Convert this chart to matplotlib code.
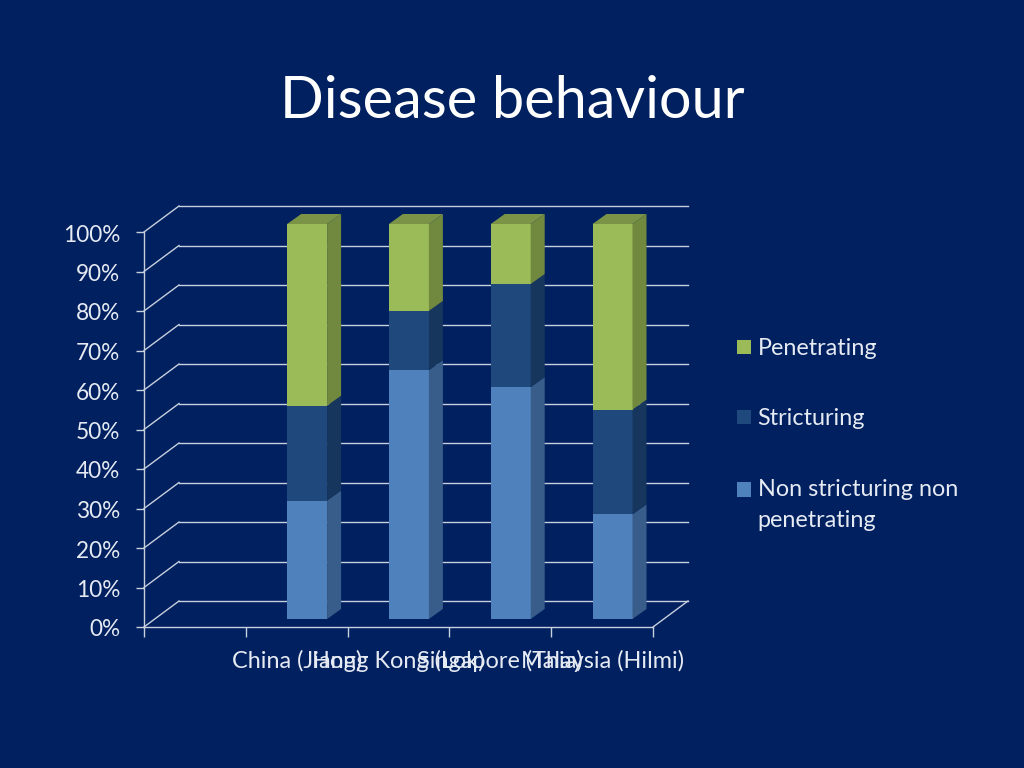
import matplotlib
matplotlib.use("Agg")
import matplotlib.pyplot as plt
from matplotlib.patches import Polygon, Rectangle
from matplotlib.legend_handler import HandlerPatch, update_from_first_child
from matplotlib.transforms import Affine2D, ScaledTranslation

categories = ["", "China (Jiang)", "Hong Kong (Lok)", "Singapore (Thia)", "Malaysia (Hilmi)"]
study_index = [1, 2, 3, 4]
non_stricturing = [30, 63, 58.7, 26.5]
stricturing = [24, 15, 26.1, 26.5]
penetrating = [46, 22, 15.2, 47]
y_ticks = list(range(0, 101, 10))
series = [
    ("Non stricturing non\npenetrating", non_stricturing, "#4F81BD", "#385D8A", "#3F6797"),
    ("Stricturing", stricturing, "#1F497D", "#17365D", "#1A3C68"),
    ("Penetrating", penetrating, "#9BBB59", "#71893F", "#7A9347"),
]

BG = "#002060"
GRID = "#C8CFDD"
TXT = "#E6EAF2"
plt.rcParams["font.family"] = ["Lato", "DejaVu Sans"]

W, H = 1024, 768
fig = plt.figure(figsize=(W / 100, H / 100), dpi=100, facecolor=BG)
ax = fig.add_axes([144 / W, 1 - 627 / H, (653 - 144) / W, (627 - 232) / H], facecolor="none")
ax.set_xlim(0, 5)
ax.set_ylim(0, 100)
for s in ["top", "right"]:
    ax.spines[s].set_visible(False)
for s in ["left", "bottom"]:
    ax.spines[s].set_color(GRID)
    ax.spines[s].set_linewidth(1)

ax.set_yticks(y_ticks)
ax.set_yticklabels([f"{v}%" for v in y_ticks])
ax.set_xticks(range(0, 6))
ax.set_xticklabels([])
ax.tick_params(axis="y", colors=GRID, labelcolor=TXT, labelsize=16.3, length=6, width=1, pad=11)
ax.tick_params(axis="x", colors=GRID, length=7, width=1)
for lab in ax.get_yticklabels():
    lab.set_transform(lab.get_transform() + Affine2D().translate(0, -1))
for i, name in enumerate(categories):
    if name:
        ax.annotate(name, xy=(i + 0.5, 0), xycoords="data", xytext=(0, -34),
                    textcoords="offset pixels", ha="center", va="center",
                    fontsize=16.9, color=TXT, annotation_clip=False)

# pseudo-3D depth of the walls and of the bars, in pixels
WALL_DX, WALL_DY = 35, 26
BAR_DX, BAR_DY = 14, 10
BAR_OFF_X, BAR_OFF_Y = 10.4, 8
BAR_W = 40 / ((653 - 144) / 5)
px_x = 5 / (653 - 144)
px_y = 100 / (627 - 232)

back = ax.transData + Affine2D().translate(WALL_DX, WALL_DY)
for v in y_ticks:
    ax.plot([0, 5], [v, v], color=GRID, lw=1, transform=back, clip_on=False, zorder=1)
    ax.plot([0, WALL_DX * px_x], [v, v + WALL_DY * px_y], color=GRID, lw=1, clip_on=False, zorder=1)
ax.plot([5, 5 + WALL_DX * px_x], [0, WALL_DY * px_y], color=GRID, lw=1, clip_on=False, zorder=1)

shift = ax.transData + Affine2D().translate(BAR_OFF_X, BAR_OFF_Y)
dx, dy = BAR_DX * px_x, BAR_DY * px_y
bottoms = [0.0] * len(study_index)
for label, values, front, side, top in series:
    bars = ax.bar([i + 0.5 for i in study_index], values, BAR_W, bottom=bottoms, color=front,
                  lw=0, label=label, zorder=3)
    for patch, b, v in zip(bars, bottoms, values):
        patch.set_transform(shift)
        patch.set_clip_on(False)
        x1 = patch.get_x() + BAR_W
        ax.add_patch(Polygon([(x1, b), (x1 + dx, b + dy), (x1 + dx, b + v + dy), (x1, b + v)],
                             closed=True, fc=side, ec="none", transform=shift, clip_on=False, zorder=3))
        if b + v >= 99.9:
            x0 = patch.get_x()
            ax.add_patch(Polygon([(x0, b + v), (x1, b + v), (x1 + dx, b + v + dy), (x0 + dx, b + v + dy)],
                                 closed=True, fc=top, ec="none", transform=shift, clip_on=False, zorder=3))
    bottoms = [b + v for b, v in zip(bottoms, values)]


def first_line_patch(legend, orig_handle, xdescent, ydescent, width, height, fontsize):
    # keep the key level with the first line of a two-line label
    return Rectangle((-xdescent, -ydescent + 11.5), width, height)


handles, labels = ax.get_legend_handles_labels()
leg = fig.legend(handles[::-1], labels[::-1], loc="upper left", bbox_to_anchor=(737 / W, 1 - 338 / H),
                 frameon=False, fontsize=16.8, labelcolor=TXT, handlelength=0.58, handleheight=0.58,
                 handletextpad=0.3, labelspacing=2.12, borderpad=0, borderaxespad=0,
                 handler_map={handles[0]: HandlerPatch(patch_func=first_line_patch,
                                                       update_func=update_from_first_child)})
for t in leg.get_texts():
    t.set_linespacing(1.62)

fig.text(512.5 / W, 1 - 102 / H, "Disease behaviour", ha="center", va="center", fontsize=41.5, color="white")
fig.savefig("out.png", dpi=100, facecolor=BG)
